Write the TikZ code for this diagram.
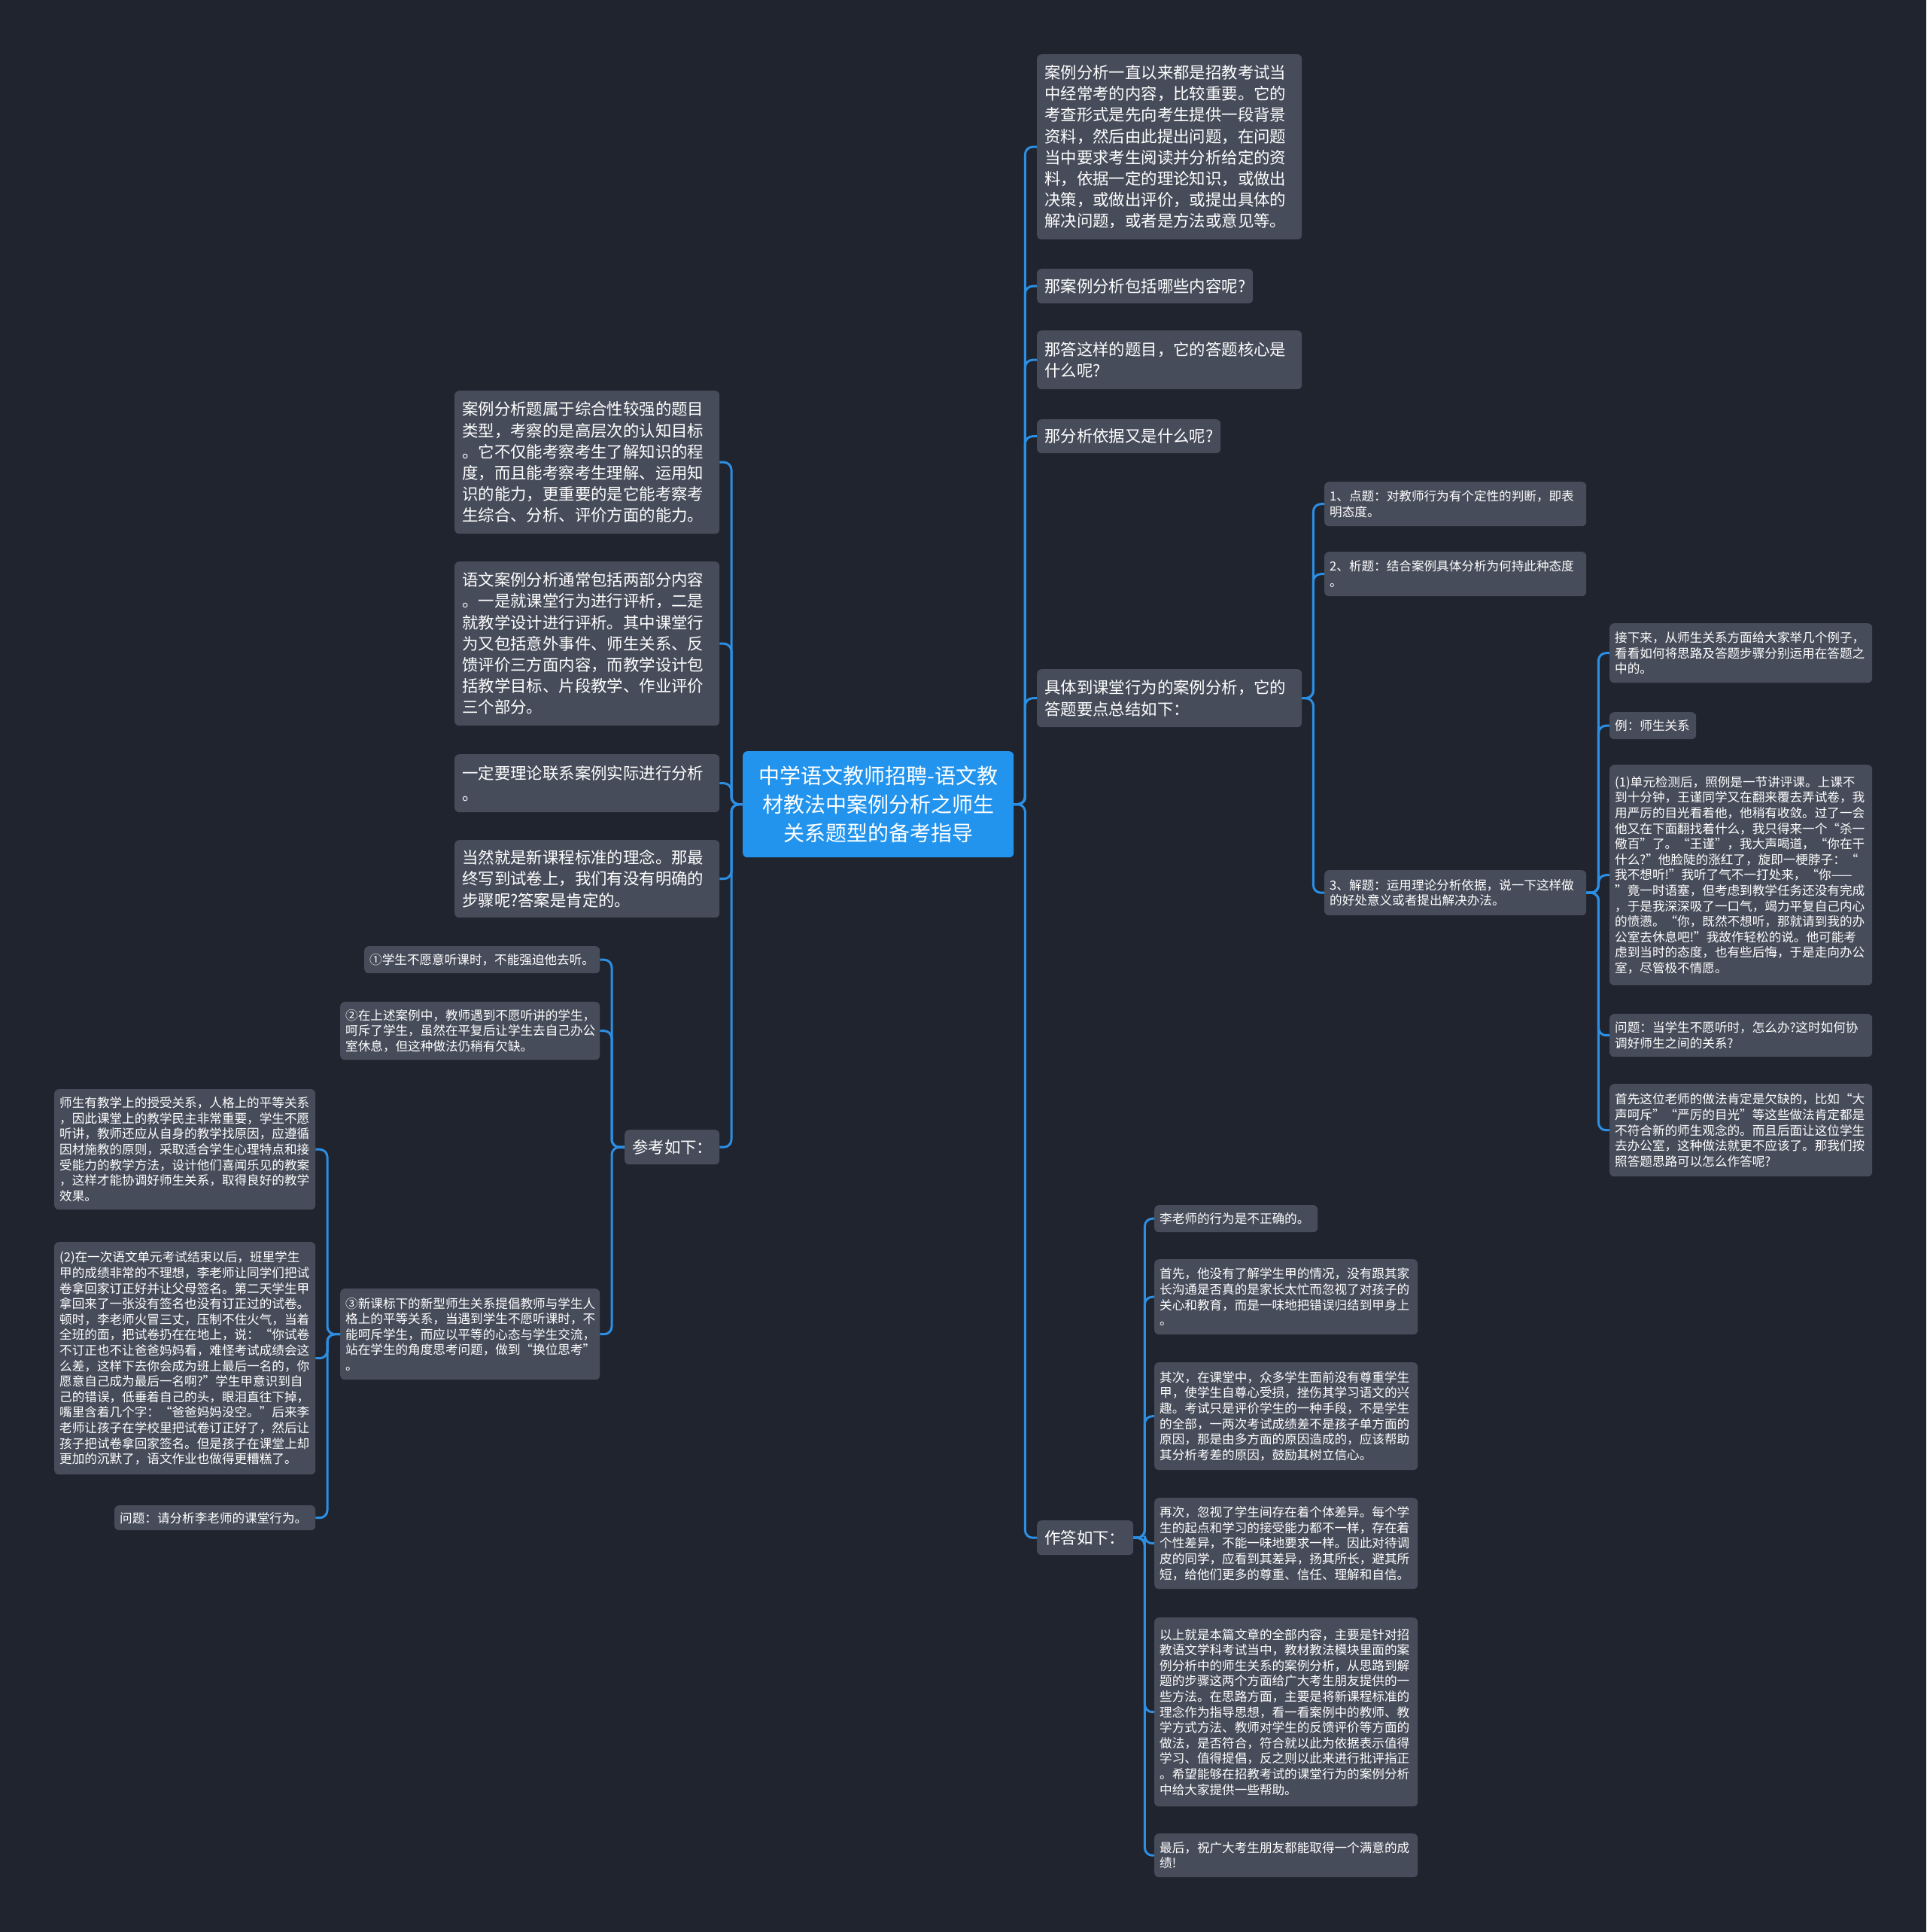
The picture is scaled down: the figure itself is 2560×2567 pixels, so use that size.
\documentclass[tikz,border=0pt]{standalone}
\usepackage{fontspec}
\setmainfont{Noto Sans CJK SC}
\definecolor{bgc}{HTML}{20242F}
\definecolor{boxc}{HTML}{474C5A}
\definecolor{rootc}{HTML}{2294EE}
\definecolor{linec}{HTML}{2C8FE3}
\tikzset{
  box/.style={fill=boxc, rounded corners=6pt, text=white, align=left, anchor=north west, inner ysep=3pt},
  bigbox/.style={box, inner xsep=10pt, font=\fontsize{21.4}{28.2}\selectfont},
  smallbox/.style={box, inner xsep=7pt, font=\fontsize{16.6}{20.6}\selectfont},
  rootbox/.style={fill=rootc, rounded corners=6pt, text=white, align=center, anchor=north west, inner xsep=10pt, inner ysep=3pt, font=\fontsize{28}{37.6}\selectfont},
  conn/.style={draw=linec, line width=3pt, rounded corners=10pt}
}
\begin{document}
\begin{tikzpicture}[x=1pt,y=-1pt]
\fill[bgc] (0,0) rectangle (2560,2567);
\useasboundingbox (0,0) rectangle (2560,2567);

% root
\node[rootbox, text width=340pt, minimum height=141pt] (root) at (987,998) {中学语文教师招聘-语文教\\材教法中案例分析之师生\\关系题型的备考指导};

% right level 1
\node[bigbox, text width=332pt, minimum height=246pt] (r1) at (1378,72) {案例分析一直以来都是招教考试当\\中经常考的内容，比较重要。它的\\考查形式是先向考生提供一段背景\\资料，然后由此提出问题，在问题\\当中要求考生阅读并分析给定的资\\料，依据一定的理论知识，或做出\\决策，或做出评价，或提出具体的\\解决问题，或者是方法或意见等。};
\node[bigbox, text width=267pt, minimum height=46pt] (r2) at (1378,357) {那案例分析包括哪些内容呢?};
\node[bigbox, text width=332pt, minimum height=78pt] (r3) at (1378,439) {那答这样的题目，它的答题核心是\\什么呢?};
\node[bigbox, text width=224pt, minimum height=45pt] (r4) at (1378,557) {那分析依据又是什么呢?};
\node[bigbox, text width=332pt, minimum height=77pt] (r5) at (1378,889) {具体到课堂行为的案例分析，它的\\答题要点总结如下：};
\node[bigbox, text width=108pt, minimum height=46pt] (r6) at (1378,2020) {作答如下：};

% r5 children
\node[smallbox, text width=334pt, minimum height=59pt] (r5a) at (1760,640) {1、点题：对教师行为有个定性的判断，即表\\明态度。};
\node[smallbox, text width=334pt, minimum height=59pt] (r5b) at (1760,733) {2、析题：结合案例具体分析为何持此种态度\\。};
\node[smallbox, text width=334pt, minimum height=60pt] (r5c) at (1760,1156) {3、解题：运用理论分析依据，说一下这样做\\的好处意义或者提出解决办法。};

% r5c children
\node[smallbox, text width=335pt, minimum height=79pt] (c1) at (2139,828) {接下来，从师生关系方面给大家举几个例子，\\看看如何将思路及答题步骤分别运用在答题之\\中的。};
\node[smallbox, text width=101pt, minimum height=36pt] (c2) at (2139,946) {例：师生关系};
\node[smallbox, text width=335pt, minimum height=293pt] (c3) at (2139,1016) {(1)单元检测后，照例是一节讲评课。上课不\\到十分钟，王谨同学又在翻来覆去弄试卷，我\\用严厉的目光看着他，他稍有收敛。过了一会\\他又在下面翻找着什么，我只得来一个“杀一\\儆百”了。“王谨”，我大声喝道，“你在干\\什么?”他脸陡的涨红了，旋即一梗脖子：“\\我不想听!”我听了气不一打处来，“你——\\”竟一时语塞，但考虑到教学任务还没有完成\\，于是我深深吸了一口气，竭力平复自己内心\\的愤懑。“你，既然不想听，那就请到我的办\\公室去休息吧!”我故作轻松的说。他可能考\\虑到当时的态度，也有些后悔，于是走向办公\\室，尽管极不情愿。};
\node[smallbox, text width=335pt, minimum height=57pt] (c4) at (2139,1347) {问题：当学生不愿听时，怎么办?这时如何协\\调好师生之间的关系?};
\node[smallbox, text width=335pt, minimum height=123pt] (c5) at (2139,1440) {首先这位老师的做法肯定是欠缺的，比如“大\\声呵斥”“严厉的目光”等这些做法肯定都是\\不符合新的师生观念的。而且后面让这位学生\\去办公室，这种做法就更不应该了。那我们按\\照答题思路可以怎么作答呢?};

% r6 children
\node[smallbox, text width=203pt, minimum height=36pt] (r6a) at (1534,1601) {李老师的行为是不正确的。};
\node[smallbox, text width=336pt, minimum height=100pt] (r6b) at (1534,1673) {首先，他没有了解学生甲的情况，没有跟其家\\长沟通是否真的是家长太忙而忽视了对孩子的\\关心和教育，而是一味地把错误归结到甲身上\\。};
\node[smallbox, text width=336pt, minimum height=143pt] (r6c) at (1534,1810) {其次，在课堂中，众多学生面前没有尊重学生\\甲，使学生自尊心受损，挫伤其学习语文的兴\\趣。考试只是评价学生的一种手段，不是学生\\的全部，一两次考试成绩差不是孩子单方面的\\原因，那是由多方面的原因造成的，应该帮助\\其分析考差的原因，鼓励其树立信心。};
\node[smallbox, text width=336pt, minimum height=121pt] (r6d) at (1534,1990) {再次，忽视了学生间存在着个体差异。每个学\\生的起点和学习的接受能力都不一样，存在着\\个性差异，不能一味地要求一样。因此对待调\\皮的同学，应看到其差异，扬其所长，避其所\\短，给他们更多的尊重、信任、理解和自信。};
\node[smallbox, text width=336pt, minimum height=251pt] (r6e) at (1534,2149) {以上就是本篇文章的全部内容，主要是针对招\\教语文学科考试当中，教材教法模块里面的案\\例分析中的师生关系的案例分析，从思路到解\\题的步骤这两个方面给广大考生朋友提供的一\\些方法。在思路方面，主要是将新课程标准的\\理念作为指导思想，看一看案例中的教师、教\\学方式方法、教师对学生的反馈评价等方面的\\做法，是否符合，符合就以此为依据表示值得\\学习、值得提倡，反之则以此来进行批评指正\\。希望能够在招教考试的课堂行为的案例分析\\中给大家提供一些帮助。};
\node[smallbox, text width=336pt, minimum height=58pt] (r6f) at (1534,2436) {最后，祝广大考生朋友都能取得一个满意的成\\绩!};

% left level 1
\node[bigbox, text width=332pt, minimum height=190pt] (l1) at (604,519) {案例分析题属于综合性较强的题目\\类型，考察的是高层次的认知目标\\。它不仅能考察考生了解知识的程\\度，而且能考察考生理解、运用知\\识的能力，更重要的是它能考察考\\生综合、分析、评价方面的能力。};
\node[bigbox, text width=332pt, minimum height=218pt] (l2) at (604,746) {语文案例分析通常包括两部分内容\\。一是就课堂行为进行评析，二是\\就教学设计进行评析。其中课堂行\\为又包括意外事件、师生关系、反\\馈评价三方面内容，而教学设计包\\括教学目标、片段教学、作业评价\\三个部分。};
\node[bigbox, text width=332pt, minimum height=77pt] (l3) at (604,1002) {一定要理论联系案例实际进行分析\\。};
\node[bigbox, text width=332pt, minimum height=103pt] (l4) at (604,1116) {当然就是新课程标准的理念。那最\\终写到试卷上，我们有没有明确的\\步骤呢?答案是肯定的。};
\node[bigbox, text width=106pt, minimum height=46pt] (l5) at (830,1501) {参考如下：};

% l5 children
\node[smallbox, text width=299pt, minimum height=36pt] (l5a) at (484,1257) {①学生不愿意听课时，不能强迫他去听。};
\node[smallbox, text width=331pt, minimum height=77pt] (l5b) at (452,1331) {②在上述案例中，教师遇到不愿听讲的学生，\\呵斥了学生，虽然在平复后让学生去自己办公\\室休息，但这种做法仍稍有欠缺。};
\node[smallbox, text width=331pt, minimum height=121pt] (l5c) at (452,1712) {③新课标下的新型师生关系提倡教师与学生人\\格上的平等关系，当遇到学生不愿听课时，不\\能呵斥学生，而应以平等的心态与学生交流，\\站在学生的角度思考问题，做到“换位思考”\\。};

% l5c children
\node[smallbox, text width=333pt, minimum height=160pt] (m1) at (72,1447) {师生有教学上的授受关系，人格上的平等关系\\，因此课堂上的教学民主非常重要，学生不愿\\听讲，教师还应从自身的教学找原因，应遵循\\因材施教的原则，采取适合学生心理特点和接\\受能力的教学方法，设计他们喜闻乐见的教案\\，这样才能协调好师生关系，取得良好的教学\\效果。};
\node[smallbox, text width=333pt, minimum height=309pt] (m2) at (72,1650) {(2)在一次语文单元考试结束以后，班里学生\\甲的成绩非常的不理想，李老师让同学们把试\\卷拿回家订正好并让父母签名。第二天学生甲\\拿回来了一张没有签名也没有订正过的试卷。\\顿时，李老师火冒三丈，压制不住火气，当着\\全班的面，把试卷扔在在地上，说：“你试卷\\不订正也不让爸爸妈妈看，难怪考试成绩会这\\么差，这样下去你会成为班上最后一名的，你\\愿意自己成为最后一名啊?”学生甲意识到自\\己的错误，低垂着自己的头，眼泪直往下掉，\\嘴里含着几个字：“爸爸妈妈没空。”后来李\\老师让孩子在学校里把试卷订正好了，然后让\\孩子把试卷拿回家签名。但是孩子在课堂上却\\更加的沉默了，语文作业也做得更糟糕了。};
\node[smallbox, text width=253pt, minimum height=33pt] (m3) at (152,2000) {问题：请分析李老师的课堂行为。};

% connectors right
\foreach \c in {r1,r2,r3,r4,r5,r6}
  \draw[conn] (root.east) -- ++(15,0) |- (\c.west);
\foreach \c in {r5a,r5b,r5c}
  \draw[conn] (r5.east) -- ++(15,0) |- (\c.west);
\foreach \c in {c1,c2,c3,c4,c5}
  \draw[conn] (r5c.east) -- ++(16,0) |- (\c.west);
\foreach \c in {r6a,r6b,r6c,r6d,r6e,r6f}
  \draw[conn] (r6.east) -- ++(15,0) |- (\c.west);
% connectors left
\foreach \c in {l1,l2,l3,l4,l5}
  \draw[conn] (root.west) -- ++(-15,0) |- (\c.east);
\foreach \c in {l5a,l5b,l5c}
  \draw[conn] (l5.west) -- ++(-17,0) |- (\c.east);
\foreach \c in {m1,m2,m3}
  \draw[conn] (l5c.west) -- ++(-17,0) |- (\c.east);
\end{tikzpicture}
\end{document}
